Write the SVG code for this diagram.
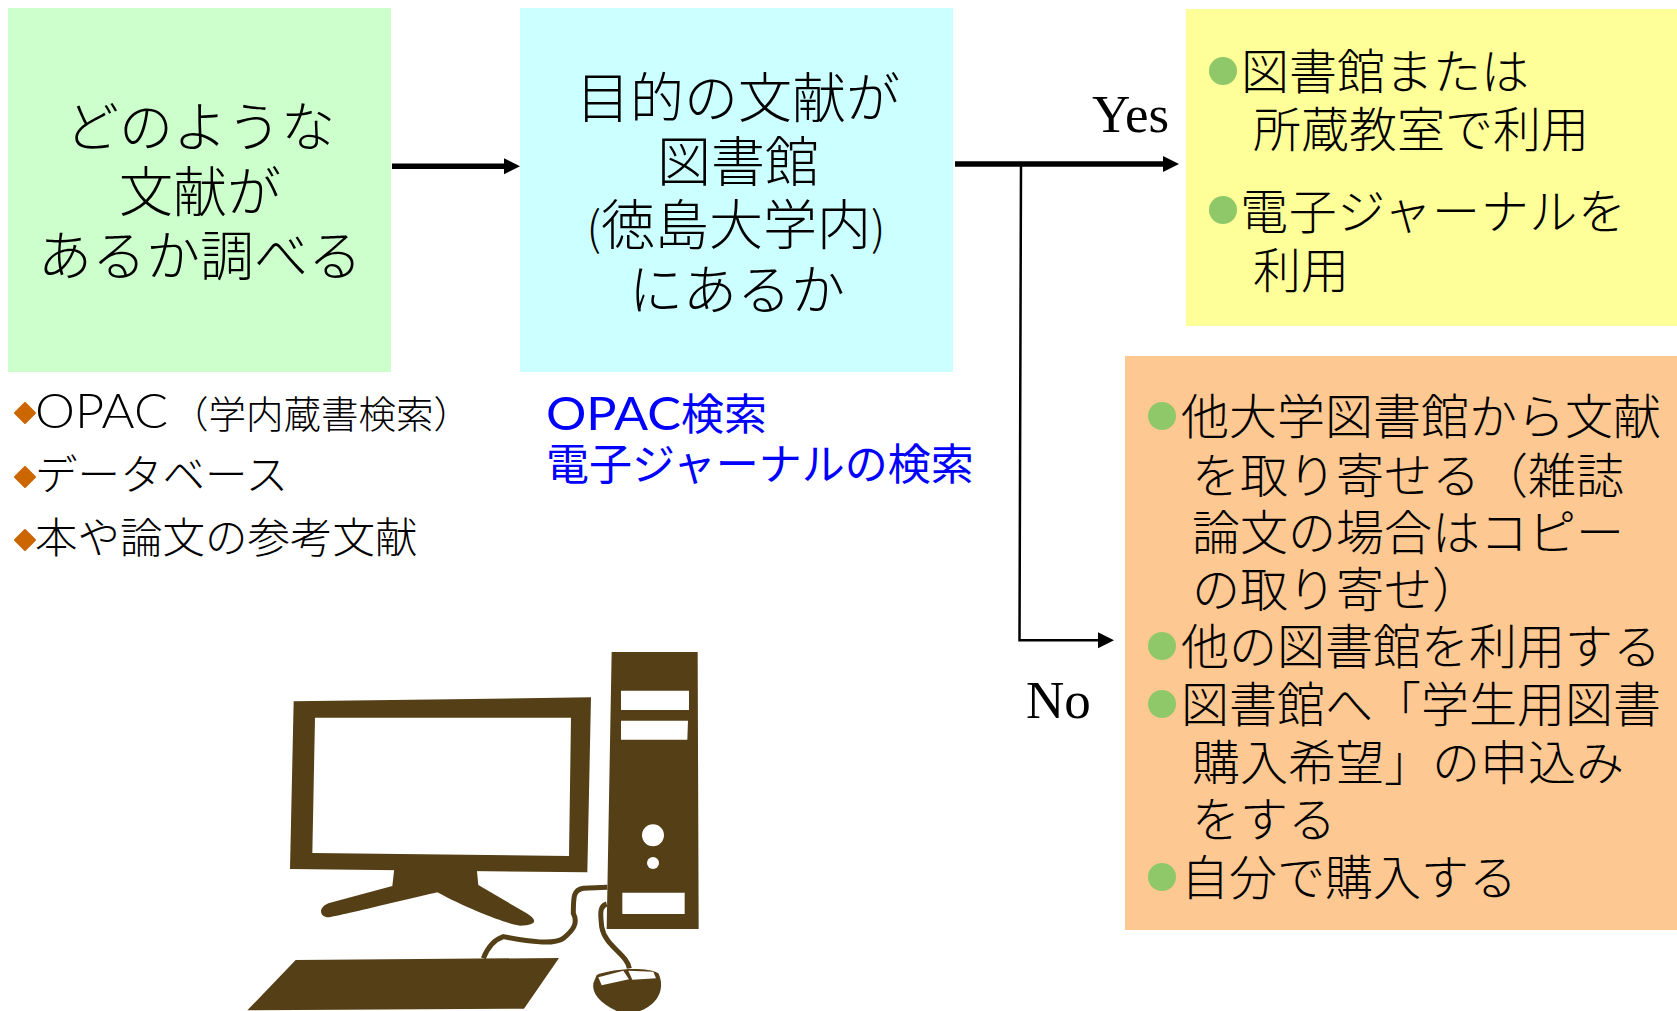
<svg xmlns="http://www.w3.org/2000/svg" width="1677" height="1011" viewBox="0 0 1677 1011">
<style>
text{font-family:"Noto Sans CJK JP","Noto Sans",sans-serif;font-weight:300;fill:#000}
.a{font-size:54px;text-anchor:middle}
.p{font-size:46px}
.b{font-size:48px}
.c{font-size:42.500px}
.d{font-size:37.500px}
.e{font-size:43px;font-weight:400;fill:#00f}
.l{font-family:"Lato","Liberation Sans",sans-serif;font-size:47px}
.s{font-family:"Liberation Serif",serif;font-weight:400;font-size:53px}
.g{fill:#8FC868}
.o{fill:#CC6600;stroke:#CC6600;stroke-width:2;stroke-linejoin:round}
.br{fill:#553F16}
.w{fill:#fff}
.cable{fill:none;stroke:#553F16;stroke-width:15}
</style>
<defs>
<marker id="h" markerUnits="userSpaceOnUse" markerWidth="16" markerHeight="16" refX="8" refY="8" orient="auto" overflow="visible"><path d="M0 0L16 8L0 16Z" fill="#000" stroke="none"/></marker>
</defs>
<rect width="1677" height="1011" fill="#fff"/>
<g id="node-search">
<rect x="8" y="8" width="383" height="364" fill="#CCFFCC"/>
<text class="a" x="200" y="147">どのような</text>
<text class="a" x="200" y="212">文献が</text>
<text class="a" x="200" y="276">あるか調べる</text>
</g>
<g id="node-question">
<rect x="520" y="8" width="433" height="364" fill="#CCFFFF"/>
<text class="a" x="738" y="118">目的の文献が</text>
<text class="a" x="738" y="182">図書館</text>
<text class="a" x="736" y="245"><tspan class="p">(</tspan>徳島大学内<tspan class="p">)</tspan></text>
<text class="a" x="737" y="310">にあるか</text>
</g>
<g id="node-yes">
<rect x="1186" y="9" width="491" height="317" fill="#FFFF99"/>
<circle class="g" cx="1223" cy="71" r="14"/>
<circle class="g" cx="1223" cy="210" r="14"/>
<text class="b" x="1241" y="89">図書館または</text>
<text class="b" x="1253" y="147">所蔵教室で利用</text>
<text class="b" x="1240" y="229" textLength="386">電子ジャーナルを</text>
<text class="b" x="1253" y="288">利用</text>
</g>
<g id="node-no">
<rect x="1125" y="356" width="552" height="574" fill="#FDC892"/>
<circle class="g" cx="1162" cy="416" r="14"/>
<circle class="g" cx="1162" cy="646" r="14"/>
<circle class="g" cx="1162" cy="704" r="14"/>
<circle class="g" cx="1162" cy="877" r="14"/>
<text class="b" x="1181" y="434">他大学図書館から文献</text>
<text class="b" x="1192" y="493">を取り寄せる（雑誌</text>
<text class="b" x="1192" y="550">論文の場合はコピー</text>
<text class="b" x="1192" y="607">の取り寄せ）</text>
<text class="b" x="1181" y="664">他の図書館を利用する</text>
<text class="b" x="1181" y="722">図書館へ「学生用図書</text>
<text class="b" x="1192" y="780">購入希望」の申込み</text>
<text class="b" x="1192" y="837">をする</text>
<text class="b" x="1181" y="895">自分で購入する</text>
</g>
<g id="node-tools">
<path class="o" d="M25 403l10 10l-10 10l-10-10zM25 467l10 10l-10 10l-10-10zM25 530l10 10l-10 10l-10-10z"/>
<text x="35" y="428"><tspan class="l" textLength="133" lengthAdjust="spacingAndGlyphs">OPAC</tspan><tspan class="d" x="171">（学内蔵書検索）</tspan></text>
<text class="c" x="35" y="490">データベース</text>
<text class="c" x="35" y="553">本や論文の参考文献</text>
</g>
<g id="node-opac">
<text x="546" y="430"><tspan class="l" style="fill:#00f;font-weight:400" textLength="135" lengthAdjust="spacingAndGlyphs">OPAC</tspan><tspan class="e" x="681">検索</tspan></text>
<text class="e" x="546" y="480">電子ジャーナルの検索</text>
</g>
<g id="connectors" fill="none" stroke="#000">
<path d="M392 166.300H512" stroke-width="5.500" marker-end="url(#h)"/>
<path d="M955 164H1171" stroke-width="5.500" marker-end="url(#h)"/>
<path d="M1021 164L1019.500 640.300H1106" stroke-width="2.500" marker-end="url(#h)"/>
</g>
<g id="labels">
<text class="s" x="1092" y="132">Yes</text>
<text class="s" x="1026" y="718">No</text>
</g>
<g id="computer" transform="translate(230 630) scale(.33333)">
<path class="br" fill-rule="evenodd" d="M191 214L1083 202L1072 727L180 717ZM255 263L247 669L1017 678L1023 263Z"/>
<path class="br" d="M493 715L740 715L745 765L890 850C925 872 920 885 870 887C840 885 720 840 622 787C500 815 320 860 295 862C270 860 262 835 295 820L487 768Z"/>
<path class="br" d="M197 990L987 984L882 1136L52 1141Z"/>
<path class="br" fill-rule="evenodd" d="M1145 66H1403L1406 897H1130ZM1173 182V240H1377V182ZM1173 272V329H1372L1374 272ZM1177 788V852H1364V788Z"/>
<circle class="w" cx="1269" cy="616" r="33"/>
<circle class="w" cx="1269" cy="699" r="18"/>
<path class="cable" d="M1132 772L1060 775C1030 780 1030 800 1030 850C1045 880 1030 900 1000 925C970 945 900 935 820 920C790 930 770 960 760 985"/>
<path class="cable" d="M1130 822C1105 830 1113 860 1115 890C1125 950 1190 970 1198 1015"/>
<path class="br" d="M1100 1035C1150 1015 1250 1010 1285 1030C1305 1070 1290 1120 1230 1143H1160C1110 1120 1085 1090 1090 1060Z"/>
<path class="w" d="M1105 1042L1180 1022L1197 1048L1115 1066ZM1195 1022L1270 1025L1278 1045L1207 1049Z"/>
</g>
</svg>
